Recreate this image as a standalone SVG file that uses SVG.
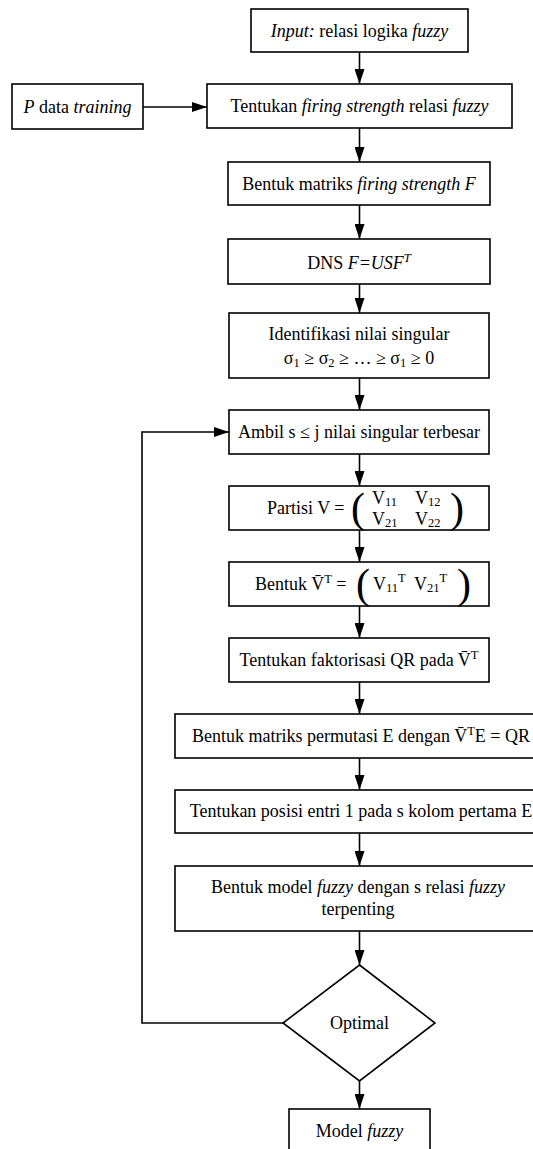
<svg xmlns="http://www.w3.org/2000/svg" width="533" height="1149" viewBox="0 0 533 1149">
<style>
.box{fill:#fff;stroke:#000;stroke-width:1.6}
.t{font-family:"Liberation Serif","Times New Roman",serif;font-size:18px;fill:#000}
.c{text-anchor:middle}
.i{font-style:italic}
.s{font-size:12.5px}
.big{font-family:"Liberation Serif","Times New Roman",serif;font-size:42px;fill:#000}
.ln{fill:none;stroke:#000;stroke-width:1.6}
</style>
<defs>
<marker id="ah" markerUnits="userSpaceOnUse" markerWidth="15" markerHeight="10" refX="15" refY="5" orient="auto" viewBox="0 0 15 10">
<path d="M0,0 L15,5 L0,10 Z" fill="#000"/>
</marker>
</defs>
<rect width="533" height="1149" fill="#fff"/>
<g id="connectors">
<line class="ln" x1="359.5" y1="52" x2="359.5" y2="84" marker-end="url(#ah)"/>
<line class="ln" x1="143" y1="107" x2="207" y2="107" marker-end="url(#ah)"/>
<line class="ln" x1="359.5" y1="128" x2="359.5" y2="162" marker-end="url(#ah)"/>
<line class="ln" x1="359.5" y1="205" x2="359.5" y2="239" marker-end="url(#ah)"/>
<line class="ln" x1="359.5" y1="284" x2="359.5" y2="313" marker-end="url(#ah)"/>
<line class="ln" x1="359.5" y1="378" x2="359.5" y2="410" marker-end="url(#ah)"/>
<line class="ln" x1="359.5" y1="454" x2="359.5" y2="486" marker-end="url(#ah)"/>
<line class="ln" x1="359.5" y1="530" x2="359.5" y2="562" marker-end="url(#ah)"/>
<line class="ln" x1="359.5" y1="606" x2="359.5" y2="638" marker-end="url(#ah)"/>
<line class="ln" x1="359.5" y1="682" x2="359.5" y2="714" marker-end="url(#ah)"/>
<line class="ln" x1="359.5" y1="758" x2="359.5" y2="790" marker-end="url(#ah)"/>
<line class="ln" x1="359.5" y1="833" x2="359.5" y2="866" marker-end="url(#ah)"/>
<line class="ln" x1="359.5" y1="931" x2="359.5" y2="965" marker-end="url(#ah)"/>
<line class="ln" x1="359.5" y1="1081" x2="359.5" y2="1109" marker-end="url(#ah)"/>
<polyline class="ln" points="283,1023 142,1023 142,432 229,432" marker-end="url(#ah)"/>
</g>
<g id="n1">
<rect class="box" x="251" y="9" width="217" height="43"/>
<text class="t c" x="359.5" y="37"><tspan class="i">Input:</tspan> relasi logika <tspan class="i">fuzzy</tspan></text>
</g>
<g id="n0">
<rect class="box" x="12" y="84" width="131" height="45"/>
<text class="t c" x="77.5" y="113"><tspan class="i">P</tspan> data <tspan class="i">training</tspan></text>
</g>
<g id="n2">
<rect class="box" x="207" y="84" width="305" height="44"/>
<text class="t c" x="359.5" y="112">Tentukan <tspan class="i">firing strength</tspan> relasi <tspan class="i">fuzzy</tspan></text>
</g>
<g id="n3">
<rect class="box" x="228" y="162" width="262" height="43"/>
<text class="t c" x="359" y="190">Bentuk matriks <tspan class="i">firing strength F</tspan></text>
</g>
<g id="n4">
<rect class="box" x="228" y="239" width="262" height="45"/>
<text class="t c" x="359" y="269">DNS <tspan class="i">F=USF</tspan><tspan class="i s" dy="-7">T</tspan></text>
</g>
<g id="n5">
<rect class="box" x="229" y="313" width="260" height="65"/>
<text class="t c" x="359" y="340">Identifikasi nilai singular</text>
<text class="t c" x="359" y="364">σ<tspan class="s" dy="3">1</tspan><tspan dy="-3"> ≥ σ</tspan><tspan class="s" dy="3">2</tspan><tspan dy="-3"> ≥ … ≥ σ</tspan><tspan class="s" dy="3">1</tspan><tspan dy="-3"> ≥ 0</tspan></text>
</g>
<g id="n6">
<rect class="box" x="229" y="410" width="260" height="44"/>
<text class="t c" x="359" y="438">Ambil s ≤ j nilai singular terbesar</text>
</g>
<g id="n7">
<rect class="box" x="229" y="486" width="260" height="44"/>
<text class="t" x="267" y="514">Partisi V =</text>
<text class="big" x="351" y="522">(</text>
<text class="t" x="372" y="504">V<tspan class="s" dy="2">11</tspan></text>
<text class="t" x="415" y="504">V<tspan class="s" dy="2">12</tspan></text>
<text class="t" x="372" y="525">V<tspan class="s" dy="2">21</tspan></text>
<text class="t" x="415" y="525">V<tspan class="s" dy="2">22</tspan></text>
<text class="big" x="450" y="522">)</text>
</g>
<g id="n8">
<rect class="box" x="229" y="562" width="260" height="44"/>
<text class="t" x="255" y="590">Bentuk V̄<tspan class="s" dy="-7">T</tspan><tspan dy="7"> =</tspan></text>
<text class="big" x="356" y="598">(</text>
<text class="t" x="373" y="590">V<tspan class="s" dy="2">11</tspan><tspan class="s" dy="-10">T</tspan></text>
<text class="t" x="414" y="590">V<tspan class="s" dy="2">21</tspan><tspan class="s" dy="-10">T</tspan></text>
<text class="big" x="457" y="598">)</text>
</g>
<g id="n9">
<rect class="box" x="229" y="638" width="260" height="44"/>
<text class="t c" x="359" y="666">Tentukan faktorisasi QR pada  V̄<tspan class="s" dy="-7">T</tspan></text>
</g>
<g id="n10">
<rect class="box" x="175" y="714" width="370" height="44"/>
<text class="t c" x="361" y="742">Bentuk matriks permutasi E dengan V̄<tspan class="s" dy="-7">T</tspan><tspan dy="7">E = QR</tspan></text>
</g>
<g id="n11">
<rect class="box" x="175" y="790" width="370" height="43"/>
<text class="t c" x="361" y="817">Tentukan posisi entri 1 pada s kolom pertama E</text>
</g>
<g id="n12">
<rect class="box" x="175" y="866" width="370" height="65"/>
<text class="t c" x="358" y="893">Bentuk model <tspan class="i">fuzzy</tspan> dengan s relasi <tspan class="i">fuzzy</tspan></text>
<text class="t c" x="358" y="915">terpenting</text>
</g>
<g id="n13">
<polygon class="box" points="359.5,965 435,1023 359.5,1081 283,1023"/>
<text class="t c" x="359.5" y="1029">Optimal</text>
</g>
<g id="n14">
<rect class="box" x="289" y="1109" width="141" height="60"/>
<text class="t c" x="359.5" y="1137">Model <tspan class="i">fuzzy</tspan></text>
</g>
</svg>
